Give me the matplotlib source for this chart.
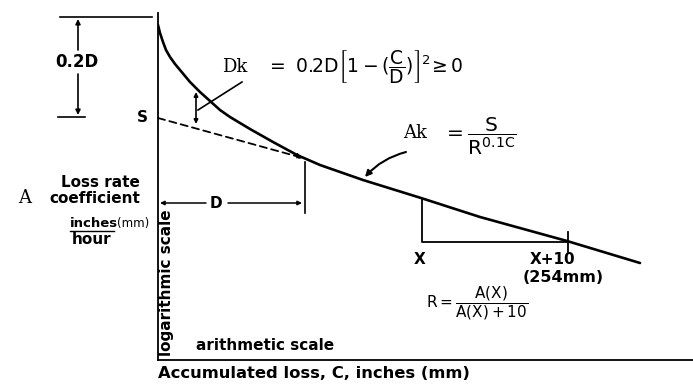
import matplotlib
matplotlib.use("Agg")
import matplotlib.pyplot as plt

plt.rcParams['font.family'] = ['DejaVu Sans']
plt.rcParams['mathtext.default'] = 'regular'

# loss rate curve A vs accumulated loss C (schematic units)
curve_c = [0, 2, 5, 8, 12, 17, 22, 32, 42, 52, 62, 72, 92, 115, 139, 162, 205, 263,
           322, 409, 482]
curve_a = [335, 327, 318, 310, 303, 296, 290, 278, 268, 259, 250, 243, 231, 218, 205,
           195, 180, 162, 143, 119, 97]

# dashed exponential line starting at S and reaching curve at C = D
s_value = 242
d_value = 145
dash_c = [0, d_value]
dash_a = [s_value, 202]

# X and X+10 construction
x_c = 264
x10_c = 410
x_a_top = 160
x_a_base = 118

fig = plt.figure(figsize=(6.93, 3.87), dpi=100)
ax = fig.add_axes([158 / 693, 27 / 387, 535 / 693, 347 / 387])
ax.set_xlim(0, 535)
ax.set_ylim(0, 347)
for side in ['top', 'right']:
    ax.spines[side].set_visible(False)
ax.spines['left'].set_linewidth(1.3)
ax.spines['bottom'].set_linewidth(1.3)
ax.set_xticks([])
ax.set_yticks([])

ax.plot(curve_c, curve_a, color='black', lw=1.9, solid_capstyle='round',
        solid_joinstyle='round')
ax.annotate('', xy=(dash_c[1], dash_a[1]), xytext=(dash_c[0], dash_a[0]),
            arrowprops=dict(arrowstyle='-|>', lw=1.3, ls=(0, (4, 2.5)),
                            color='black', mutation_scale=8, shrinkA=0, shrinkB=0))

kw = dict(color='black', clip_on=False)
tfont = dict(fontsize=11, fontweight='bold')

# 0.2D dimension on the left
ax.plot([-98, -6], [343, 343], lw=1.2, **kw)
ax.plot([-100, -73], [243, 243], lw=1.2, **kw)
ax.annotate('', xy=(-80, 341), xytext=(-80, 310),
            arrowprops=dict(arrowstyle='-|>', lw=1.2, color='black', mutation_scale=7,
                            shrinkA=0, shrinkB=0), annotation_clip=False)
ax.annotate('', xy=(-80, 245), xytext=(-80, 286),
            arrowprops=dict(arrowstyle='-|>', lw=1.2, color='black', mutation_scale=7,
                            shrinkA=0, shrinkB=0), annotation_clip=False)
ax.text(-81, 298, '0.2D', ha='center', va='center', fontsize=12, fontweight='bold', **kw)
ax.text(-16, 243, 'S', ha='center', va='center', **tfont, **kw)

# Dk double arrow and leader
ax.annotate('', xy=(38, 268), xytext=(38, 236),
            arrowprops=dict(arrowstyle='<|-|>', lw=1.2, color='black', mutation_scale=6,
                            shrinkA=0, shrinkB=0))
ax.plot([40, 84], [250, 278], lw=1.2, color='black')
ax.text(64, 293, 'Dk', family='DejaVu Serif', fontsize=13, ha='left', va='center', **kw)
ax.text(108, 293, r'$=\ 0.2D\left[1-(\dfrac{C}{D})\right]^2\!\geq 0$', fontsize=13.5,
        ha='left', va='center', **kw)

# Ak label with arrow
ax.annotate('', xy=(207, 183), xytext=(248, 208),
            arrowprops=dict(arrowstyle='-|>', lw=1.5, color='black', mutation_scale=9,
                            connectionstyle='arc3,rad=0.15', shrinkA=0, shrinkB=0))
ax.text(257, 227, 'Ak', family='DejaVu Serif', fontsize=13, ha='center', va='center', **kw)
ax.text(285, 224, r'$=\dfrac{S}{R^{0.1C}}$', fontsize=14.5, ha='left', va='center', **kw)

# D dimension
ax.plot([147, 147], [198, 147], lw=1.2, color='black')
ax.annotate('', xy=(2, 157), xytext=(48, 157),
            arrowprops=dict(arrowstyle='-|>', lw=1.1, color='black', mutation_scale=6,
                            shrinkA=0, shrinkB=0))
ax.annotate('', xy=(144, 157), xytext=(70, 157),
            arrowprops=dict(arrowstyle='-|>', lw=1.1, color='black', mutation_scale=6,
                            shrinkA=0, shrinkB=0))
ax.text(58, 157, 'D', ha='center', va='center', **tfont)

# X to X+10 construction
ax.plot([x_c, x_c, x10_c], [x_a_top, x_a_base, x_a_base], lw=1.3, color='black')
ax.plot([x10_c, x10_c], [128, 108], lw=1.3, color='black')
ax.text(x_c - 2, 101, 'X', ha='center', va='center', **tfont)
ax.text(x10_c - 15, 101, 'X+10', ha='center', va='center', **tfont)
ax.text(x10_c - 5, 82, '(254mm)', ha='center', va='center', fontsize=11.5,
        fontweight='bold')
ax.text(268, 57, r'$R=\dfrac{A(X)}{A(X)+10}$', fontsize=11, ha='left', va='center')

# axis labels
ax.text(-133, 162, 'A', family='DejaVu Serif', fontsize=13, ha='center', va='center', **kw)
ax.text(-58, 178, 'Loss rate', ha='center', va='center', **tfont, **kw)
ax.text(-63, 162, 'coefficient', ha='center', va='center', **tfont, **kw)
ax.text(-88, 137, 'inches', ha='left', va='center', fontsize=9.5, fontweight='bold', **kw)
ax.plot([-88, -44], [129, 129], lw=1.0, **kw)
ax.text(-41, 137, '(mm)', ha='left', va='center', fontsize=8.5, **kw)
ax.text(-66, 120, 'hour', ha='center', va='center', **tfont, **kw)
ax.text(8, 77, 'logarithmic scale', rotation=90, ha='center', va='center', **tfont)
ax.text(38, 15, 'arithmetic scale', ha='left', va='center', **tfont)
ax.text(0, -14, 'Accumulated loss, C, inches (mm)', ha='left', va='center',
        fontsize=11.8, fontweight='bold', **kw)

fig.savefig('out.png', dpi=100)
